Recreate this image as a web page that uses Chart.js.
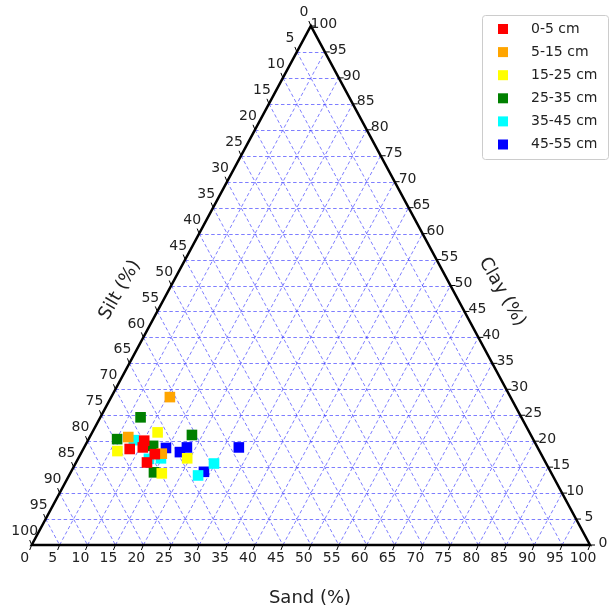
<!DOCTYPE html>
<html>
<head>
<meta charset="utf-8">
<script src="https://cdn.jsdelivr.net/npm/chart.js@4"></script>
<style>
body { margin: 0; background: #fff; }
#wrap { width: 611px; height: 616px; position: relative; }
</style>
</head>
<body>
<div id="wrap"><canvas id="myChart"></canvas></div>
<script>
// Profundidades y colores de cada serie
var depthLabels = ["0-5 cm", "5-15 cm", "15-25 cm", "25-35 cm", "35-45 cm", "45-55 cm"];
var depthColors = ["#ff0000", "#ffa500", "#ffff00", "#008000", "#00ffff", "#0000ff"];

// Arena (%) y arcilla (%) por profundidad, limo = 100 - arena - arcilla
var sand0_5   = [10.1, 10.5, 8.3, 13.3, 12.7];
var clay0_5   = [20.1, 18.8, 18.5, 17.5, 15.9];
var sand5_15  = [10.5, 6.9, 14.5];
var clay5_15  = [28.5, 20.8, 17.6];
var sand15_25 = [11.7, 6.3, 16.4, 19.5];
var clay15_25 = [21.7, 18.1, 13.8, 16.7];
var sand25_35 = [7.2, 5.1, 12.2, 18.1, 14.9];
var clay25_35 = [24.6, 20.4, 19.1, 21.2, 14.0];
var sand35_45 = [8.2, 12.7, 14.8, 24.8, 23.1];
var clay35_45 = [20.2, 16.6, 16.7, 15.7, 13.4];
var sand45_55 = [14.7, 17.6, 18.4, 27.7, 23.8];
var clay45_55 = [18.7, 17.9, 18.8, 18.8, 14.1];

var sandSeries = [sand0_5, sand5_15, sand15_25, sand25_35, sand35_45, sand45_55];
var claySeries = [clay0_5, clay5_15, clay15_25, clay25_35, clay35_45, clay45_55];

// Etiquetas de los ejes
var tickValues = [0, 5, 10, 15, 20, 25, 30, 35, 40, 45, 50, 55, 60, 65, 70, 75, 80, 85, 90, 95, 100];
var gridValues = [5, 10, 15, 20, 25, 30, 35, 40, 45, 50, 55, 60, 65, 70, 75, 80, 85, 90, 95];

// Convierte (arena, arcilla) a coordenadas del plano
function toXY(sand, clay) {
    return { x: sand + clay / 2, y: clay };
}

function buildDatasets() {
    var sets = [];
    for (var i = 0; i < depthLabels.length; i++) {
        var pts = [];
        for (var j = 0; j < sandSeries[i].length; j++) {
            pts.push(toXY(sandSeries[i][j], claySeries[i][j]));
        }
        sets.push({
            label: depthLabels[i],
            data: pts,
            pointStyle: 'rect',
            pointRadius: 7.5,
            pointHoverRadius: 7.5,
            backgroundColor: depthColors[i],
            borderColor: depthColors[i],
            borderWidth: 0,
            clip: false
        });
    }
    return sets;
}

// Pixel de un punto ternario
function px(chart, sand, clay) {
    var p = toXY(sand, clay);
    return { x: chart.scales.x.getPixelForValue(p.x), y: chart.scales.y.getPixelForValue(p.y) };
}

function line(ctx, a, b) {
    ctx.beginPath();
    ctx.moveTo(a.x, a.y);
    ctx.lineTo(b.x, b.y);
    ctx.stroke();
}

var ternaryPlugin = {
    id: 'ternary',
    beforeDatasetsDraw: function(chart) {
        var ctx = chart.ctx;
        ctx.save();
        // rejilla
        ctx.strokeStyle = 'rgba(40,40,255,0.6)';
        ctx.lineWidth = 1;
        ctx.setLineDash([3.5, 2.5]);
        gridValues.forEach(function(k) {
            var a = px(chart, 0, k), b = px(chart, 100 - k, k);
            var yy = Math.round(a.y) + 0.5;
            line(ctx, { x: a.x, y: yy }, { x: b.x, y: yy });         // arcilla cte
            line(ctx, px(chart, k, 0), px(chart, k, 100 - k));       // arena cte
            line(ctx, px(chart, 0, 100 - k), px(chart, 100 - k, 0)); // limo cte
        });
        ctx.setLineDash([]);
        // triangulo
        var A = px(chart, 0, 0), B = px(chart, 100, 0), C = px(chart, 0, 100);
        ctx.strokeStyle = '#000';
        ctx.lineWidth = 2.5;
        ctx.beginPath();
        ctx.moveTo(A.x, A.y);
        ctx.lineTo(B.x, B.y);
        ctx.lineTo(C.x, C.y);
        ctx.closePath();
        ctx.stroke();
        // ticks y etiquetas
        ctx.lineWidth = 1;
        ctx.fillStyle = '#222';
        ctx.font = '14px "DejaVu Sans"';
        ctx.textAlign = 'center';
        ctx.textBaseline = 'middle';
        tickValues.forEach(function(v) {
            var b = px(chart, v, 0);
            line(ctx, b, { x: b.x - 2, y: b.y + 5 });
            ctx.fillText(String(v), b.x - 7, b.y + 13);
            var l = px(chart, 0, 100 - v);
            line(ctx, l, { x: l.x - 2, y: l.y - 5 });
            ctx.fillText(String(v), l.x - 7, l.y - 13.5);
            var r = px(chart, 100 - v, v);
            line(ctx, r, { x: r.x + 5, y: r.y });
            ctx.fillText(String(v), r.x + 13, r.y - 2);
        });
        // titulos de ejes
        ctx.font = '18px "DejaVu Sans"';
        ctx.fillText('Sand (%)', 310, 598);
        ctx.save();
        ctx.translate(120, 290);
        ctx.rotate(-Math.PI / 3);
        ctx.fillText('Silt (%)', 0, 0);
        ctx.restore();
        ctx.save();
        ctx.translate(502, 292);
        ctx.rotate(Math.PI / 3);
        ctx.fillText('Clay (%)', 0, 0);
        ctx.restore();
        ctx.restore();
    },
    afterDraw: function(chart) {
        // leyenda con recuadro
        var ctx = chart.ctx;
        ctx.save();
        ctx.fillStyle = 'rgba(255,255,255,0.8)';
        ctx.strokeStyle = '#cccccc';
        ctx.lineWidth = 1;
        ctx.beginPath();
        ctx.roundRect(482.5, 15.5, 126, 144, 3);
        ctx.fill();
        ctx.stroke();
        ctx.font = '14px "DejaVu Sans"';
        ctx.textAlign = 'left';
        ctx.textBaseline = 'middle';
        chart.data.datasets.forEach(function(ds, i) {
            var y = 29 + i * 23.1;
            ctx.fillStyle = ds.backgroundColor;
            ctx.fillRect(498, y - 5, 10, 10);
            ctx.fillStyle = '#222';
            ctx.fillText(ds.label, 531, y);
        });
        ctx.restore();
    }
};

var myChart = new Chart('myChart', {
    type: 'scatter',
    data: { datasets: buildDatasets() },
    options: {
        responsive: true,
        maintainAspectRatio: false,
        animation: false,
        layout: { padding: { left: 31.7, right: 21, top: 26, bottom: 71 } },
        scales: {
            x: { display: false, min: 0, max: 100 },
            y: { display: false, min: 0, max: 100 }
        },
        plugins: { legend: { display: false }, tooltip: { enabled: false } }
    },
    plugins: [ternaryPlugin]
});
</script>
</body>
</html>
